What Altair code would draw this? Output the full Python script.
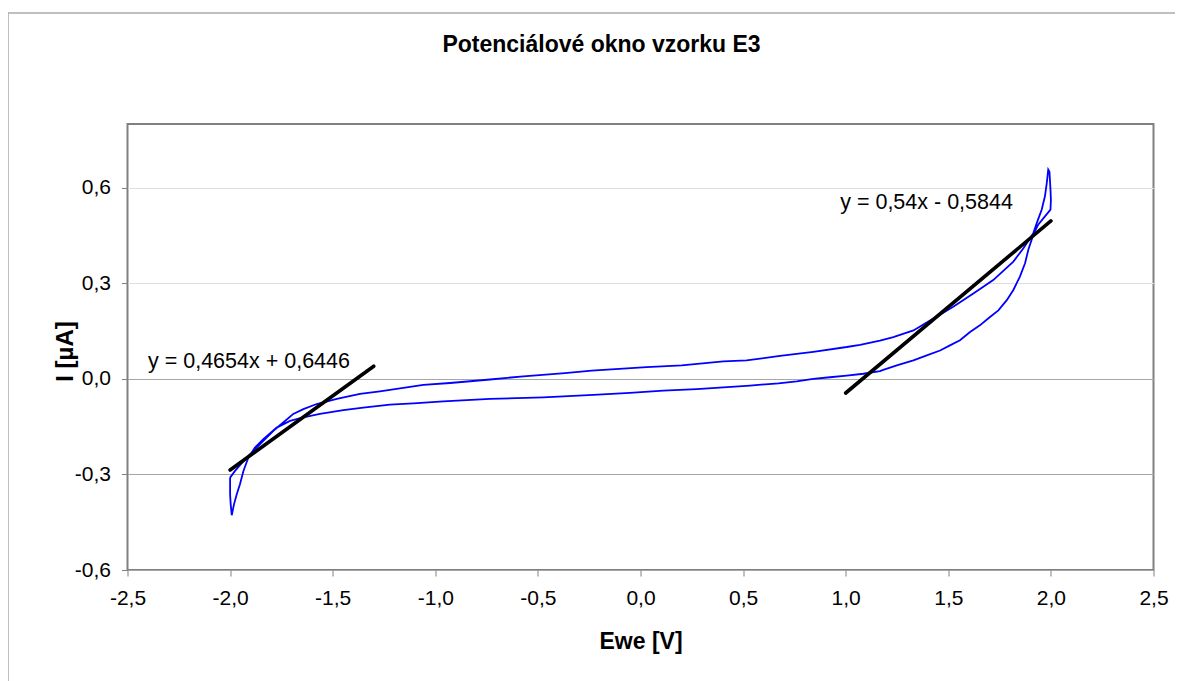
import altair as alt
import pandas as pd

# ---- data ----
# closed CV loop, in scan order (upper branch left->right, spike, lower branch right->left, left tip)
ewe = [
    -2.000, -1.976, -1.935, -1.887, -1.838, -1.789, -1.741, -1.692, -1.643, -1.578,
    -1.480, -1.367, -1.270, -1.058, -0.928, -0.733, -0.571, -0.368, -0.238, 0.030,
    0.201, 0.404, 0.517, 0.680, 0.842, 1.005, 1.070, 1.167, 1.232, 1.330,
    1.427, 1.524, 1.622, 1.719, 1.817, 1.866, 1.914, 1.931, 1.955, 1.971,
    1.980, 1.987, 1.993, 1.998, 2.000, 1.998, 1.971, 1.938, 1.914,
    1.890, 1.874, 1.849, 1.817, 1.785, 1.744, 1.703, 1.654, 1.606, 1.557,
    1.508, 1.460, 1.395, 1.330, 1.249, 1.183, 1.167, 1.086, 1.005, 0.923,
    0.842, 0.761, 0.672, 0.534, 0.274, 0.111, -0.051, -0.230, -0.474, -0.733,
    -0.961, -1.107, -1.221, -1.351, -1.448, -1.562, -1.643, -1.708, -1.773, -1.838,
    -1.879, -1.911, -1.935, -1.952, -1.968, -1.981, -1.992, -1.997, -2.000, -2.000,
    -2.000,
]
current = [
    -0.310, -0.289, -0.258, -0.226, -0.195, -0.163, -0.137, -0.110, -0.095, -0.079,
    -0.063, -0.047, -0.039, -0.019, -0.013, -0.002, 0.008, 0.018, 0.026, 0.037,
    0.042, 0.055, 0.058, 0.072, 0.085, 0.100, 0.107, 0.120, 0.131, 0.152,
    0.189, 0.226, 0.268, 0.310, 0.368, 0.410, 0.457, 0.489, 0.531, 0.573,
    0.615, 0.657, 0.650, 0.594, 0.562, 0.531, 0.510, 0.484, 0.452,
    0.405, 0.363, 0.321, 0.279, 0.247, 0.215, 0.194, 0.168, 0.147, 0.121,
    0.105, 0.089, 0.074, 0.058, 0.042, 0.028, 0.024, 0.016, 0.010, 0.005,
    0.000, -0.008, -0.014, -0.021, -0.032, -0.037, -0.044, -0.050, -0.058, -0.063,
    -0.071, -0.077, -0.081, -0.090, -0.098, -0.110, -0.121, -0.132, -0.153, -0.189,
    -0.216, -0.247, -0.289, -0.331, -0.363, -0.394, -0.428, -0.394, -0.363, -0.331,
    -0.310,
]

# trend lines (end points) and their equations
trend_id = ["left", "left", "right", "right"]
trend_x = [-2.0, -1.3, 1.0, 2.0]
trend_y = [-0.2862, 0.0396, -0.0444, 0.4956]
eq_text = ["y = 0,4654x + 0,6446", "y = 0,54x - 0,5844"]
eq_x = [-1.908, 1.394]
eq_y = [0.052, 0.553]

x_ticks = [-2.5, -2.0, -1.5, -1.0, -0.5, 0.0, 0.5, 1.0, 1.5, 2.0, 2.5]
y_ticks = [-0.6, -0.3, 0.0, 0.3, 0.6]

FONT = "Liberation Sans"
W, H = 1026, 446

loop = pd.DataFrame({"i": list(range(len(ewe))), "x": ewe, "y": current})
trend = pd.DataFrame({"g": trend_id, "x": trend_x, "y": trend_y})
eqs = pd.DataFrame({"t": eq_text, "x": eq_x, "y": eq_y})

lab_expr = "(datum.value < 0 ? '-' : '') + replace(format(abs(datum.value), '.1f'), '.', ',')"

xscale = alt.Scale(domain=[-2.5, 2.5], nice=False, zero=False)
yscale = alt.Scale(domain=[-0.6, 0.8], nice=False, zero=False)

xaxis = alt.Axis(
    values=x_ticks, grid=False, domain=False, ticks=True, tickSize=6,
    tickColor="#808080", labelExpr=lab_expr, labelFont=FONT, labelFontSize=21,
    labelColor="black", labelPadding=11, labelFlush=False,
    title="Ewe [V]", titleFont=FONT, titleFontSize=23, titleFontWeight="bold",
    titleColor="black", titleX=W / 2, titleY=71, titleBaseline="middle",
    titleAlign="center",
)
yaxis = alt.Axis(
    values=y_ticks, grid=True,
    gridColor={"condition": {"test": "datum.value > 0.1", "value": "#dedede"}, "value": "#a6a6a6"},
    gridWidth=1.2, domain=False, ticks=True, tickSize=6, tickColor="#808080",
    labelExpr=lab_expr, labelFont=FONT, labelFontSize=21, labelColor="black",
    labelPadding=11, labelFlush=False,
    title="I [µA]", titleFont=FONT, titleFontSize=24, titleFontWeight="bold",
    titleColor="black", titleX=-62, titleY=H / 2 + 4, titleBaseline="middle",
    titleAlign="center", titleAngle=270,
)

frame = alt.Chart(pd.DataFrame({"a": [0]})).mark_rect(
    fillOpacity=0, stroke="#ababab", strokeWidth=1.5
).encode(
    x=alt.value(-119.5), x2=alt.value(W + 80), y=alt.value(-111), y2=alt.value(H + 200)
)

cv = alt.Chart(loop).mark_line(color="#0000ff", strokeWidth=1.8, clip=True).encode(
    x=alt.X("x:Q", scale=xscale, axis=xaxis),
    y=alt.Y("y:Q", scale=yscale, axis=yaxis),
    order="i:Q",
)

tl = alt.Chart(trend).mark_line(color="black", strokeWidth=3.6, strokeCap="round").encode(
    x=alt.X("x:Q", scale=xscale),
    y=alt.Y("y:Q", scale=yscale),
    detail="g:N",
)

tx = alt.Chart(eqs).mark_text(
    font=FONT, fontSize=21.5, color="black", align="center", baseline="middle"
).encode(
    x=alt.X("x:Q", scale=xscale),
    y=alt.Y("y:Q", scale=yscale),
    text="t:N",
)

chart = alt.layer(frame, cv, tl, tx).properties(
    width=W,
    height=H,
    autosize=alt.AutoSizeParams(type="none"),
    padding={"left": 119.5, "top": 116, "right": 21.5, "bottom": 111},
    title=alt.TitleParams(
        "Potenciálové okno vzorku E3", font=FONT, fontSize=23, fontWeight="bold",
        color="black", anchor="middle", frame="group", dx=-39, offset=-56,
        baseline="middle",
    ),
).configure(background="white").configure_view(stroke="#808080", strokeWidth=2)

chart.save("out.html", embed_options={"renderer": "svg", "actions": False})
